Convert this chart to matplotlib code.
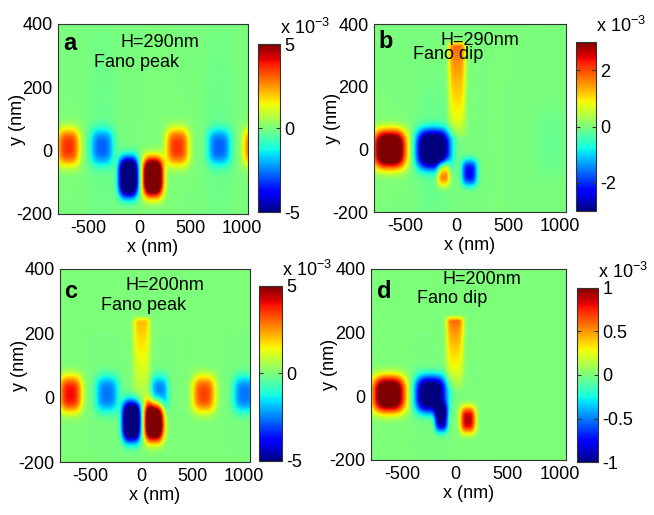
import numpy as np
import matplotlib
matplotlib.use("Agg")
import matplotlib.pyplot as plt

plt.rcParams['font.family'] = ['Liberation Sans', 'DejaVu Sans']
plt.rcParams['axes.unicode_minus'] = False
plt.rcParams['mathtext.default'] = 'regular'

# field values in units of 1e-3, blobs
# (last entries with tall hh are the faint background shading)
# panel a: H=290nm, Fano peak
a_cx = [-700, -370, -110, 130, 370, 780, 1130, -370, 780]
a_cy = [10, 10, -85, -85, 10, 10, 10, 60, 60]
a_hw = [115, 115, 95, 100, 115, 115, 115, 140, 140]
a_hh = [60, 58, 62, 62, 60, 58, 60, 320, 320]
a_amp = [3.6, -2.6, -8.0, 8.0, 3.6, -2.6, 3.4, -0.2, -0.2]
a_stripe_y = [0, 0]
a_stripe_v = [0, 0]

# panel b: H=290nm, Fano dip
b_cx = [-650, -230, -130, 120, -230, 900]
b_cy = [0, 0, -75, -75, -20, 20]
b_hw = [160, 160, 60, 75, 170, 140]
b_hh = [62, 62, 42, 42, 240, 110]
b_amp = [4.2, -4.2, 2.0, -2.3, -0.15, -0.15]
b_stripe_y = [40, 100, 170, 240, 310, 330, 350]
b_stripe_v = [0.2, 0.8, 1.1, 1.4, 1.7, 1.8, 0.0]

# panel c: H=200nm, Fano peak
c_cx = [-700, -340, 175, -100, 120, 610, 1010]
c_cy = [10, 10, 10, -75, -75, 10, 10]
c_hw = [115, 115, 85, 90, 95, 115, 115]
c_hh = [58, 58, 58, 62, 62, 58, 58]
c_amp = [4.0, -2.6, -2.6, -8.0, 8.0, 3.4, -2.6]
c_stripe_y = [-20, 40, 100, 160, 215, 235, 255]
c_stripe_v = [0.3, 0.8, 1.2, 1.6, 2.0, 2.1, 0.0]

# panel d: H=200nm, Fano dip
d_cx = [-630, -230, -130, 125]
d_cy = [5, 5, -70, -75]
d_hw = [160, 150, 62, 75]
d_hh = [58, 58, 42, 42]
d_amp = [1.3, -1.25, -1.0, 0.9]
d_stripe_y = [20, 80, 130, 180, 220, 235, 255]
d_stripe_v = [0.05, 0.25, 0.35, 0.45, 0.55, 0.6, 0.0]

panels = [
    ('a', 'H=290nm', 'Fano peak', a_cx, a_cy, a_hw, a_hh, a_amp, a_stripe_y, a_stripe_v, 5, [-5, 0, 5], ['-5', '0', '5']),
    ('b', 'H=290nm', 'Fano dip', b_cx, b_cy, b_hw, b_hh, b_amp, b_stripe_y, b_stripe_v, 3, [-2, 0, 2], ['-2', '0', '2']),
    ('c', 'H=200nm', 'Fano peak', c_cx, c_cy, c_hw, c_hh, c_amp, c_stripe_y, c_stripe_v, 5, [-5, 0, 5], ['-5', '0', '5']),
    ('d', 'H=200nm', 'Fano dip', d_cx, d_cy, d_hw, d_hh, d_amp, d_stripe_y, d_stripe_v, 1,
     [-1, -0.5, 0, 0.5, 1], ['-1', '-0.5', '0', '0.5', '1']),
]

xlim = (-800, 1060)
ylim = (-200, 400)
xt = [-500, 0, 500, 1000]
yt = [-200, 0, 200, 400]

gx = np.linspace(xlim[0], xlim[1], 500)
gy = np.linspace(ylim[0], ylim[1], 300)
X, Y = np.meshgrid(gx, gy)


def build_field(cx, cy, hw, hh, amp, sy, sv):
    Z = np.zeros_like(X)
    for x0, y0, w, h, A in zip(cx, cy, hw, hh, amp):
        Z += A * np.exp(-(np.abs((X - x0) / w) ** 3 + np.abs((Y - y0) / h) ** 3))
    prof = np.interp(Y, sy, sv, left=0, right=0)
    Z += prof * np.exp(-np.abs(X / 85.0) ** 4)
    return Z


# axes rectangles [left, bottom, width, height] in figure fraction
ax_pos = [[0.0887, 0.5845, 0.2905, 0.369],
          [0.5719, 0.5883, 0.2936, 0.365],
          [0.0917, 0.1029, 0.2905, 0.3748],
          [0.5673, 0.1068, 0.298, 0.3709]]
cb_pos = [[0.3945, 0.5883, 0.0336, 0.326],
          [0.8807, 0.5903, 0.0306, 0.328],
          [0.396, 0.1049, 0.0352, 0.3398],
          [0.8823, 0.1029, 0.0321, 0.3379]]
# text anchors (data coords): letter, H label, Fano label
txt_pos = [((-750, 338), (-190, 340), (-450, 278)),
           ((-760, 345), (-160, 348), (-420, 302)),
           ((-760, 330), (-160, 350), (-400, 288)),
           ((-740, 330), (-115, 368), (-360, 306))]

fig = plt.figure(figsize=(6.54, 5.15), dpi=100)
edge = '#333333'
fs = 13

for i, (letter, htxt, ftxt, cx, cy, hw, hh, amp, sy, sv, lim, cticks, clabels) in enumerate(panels):
    ax = fig.add_axes(ax_pos[i])
    Z = build_field(cx, cy, hw, hh, amp, sy, sv)
    im = ax.imshow(Z, extent=(xlim[0], xlim[1], ylim[0], ylim[1]), origin='lower',
                   aspect='auto', cmap='jet', vmin=-lim, vmax=lim, interpolation='bilinear')
    ax.set_xlim(xlim)
    ax.set_ylim(ylim)
    ax.set_xticks(xt)
    ax.set_yticks(yt)
    ax.tick_params(labelsize=fs, length=0, pad=4)
    for s in ax.spines.values():
        s.set_color(edge)
    ax.set_xlabel('x (nm)', fontsize=fs, labelpad=2)
    ax.set_ylabel('y (nm)', fontsize=fs)
    ax.yaxis.set_label_coords(-0.17, 0.5)

    lp, hp, fp = txt_pos[i]
    ax.text(lp[0], lp[1], letter, fontsize=17, fontweight='bold', va='center', ha='left')
    ax.text(hp[0], hp[1], htxt, fontsize=fs, va='center', ha='left')
    ax.text(fp[0], fp[1], ftxt, fontsize=fs, va='center', ha='left')

    cax = fig.add_axes(cb_pos[i])
    cb = fig.colorbar(im, cax=cax, ticks=cticks)
    cb.ax.set_yticklabels(clabels)
    cb.ax.tick_params(labelsize=fs, direction='in', length=3, left=True, right=True,
                      color='#333333', pad=3)
    cb.outline.set_edgecolor(edge)
    cb.ax.annotate(r'x 10$^{-3}$', xy=(1.0, 1.0), xycoords='axes fraction',
                   xytext=(0, 7), textcoords='offset points', fontsize=fs,
                   ha='left', va='baseline')

fig.savefig('out.png', dpi=100)
